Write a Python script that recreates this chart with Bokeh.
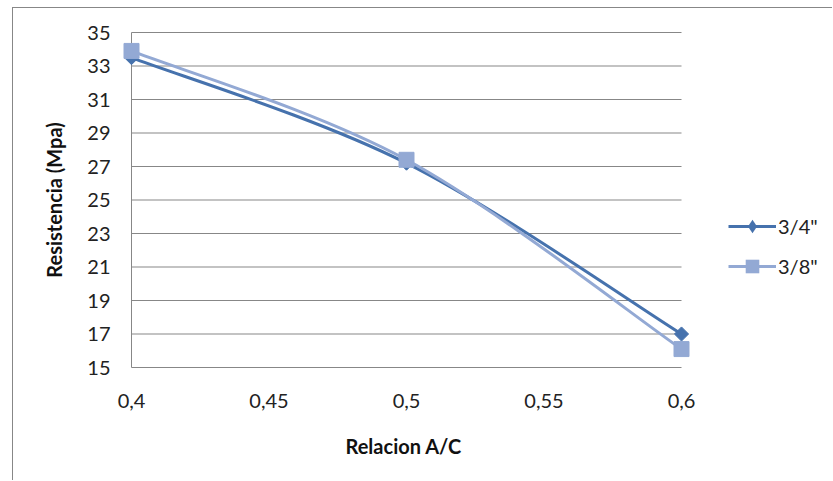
from bokeh.plotting import figure
from bokeh.models import Range1d, FixedTicker, Legend, LegendItem, ColumnDataSource, Title
from bokeh.embed import file_html
from bokeh.resources import INLINE
import math

# ---- data ----
relacion_ac = [0.4, 0.5, 0.6]
serie_34 = [33.5, 27.2, 17.0]
serie_38 = [33.9, 27.4, 16.1]
series_names = ['3/4"', '3/8"']
x_ticks = [0.4, 0.45, 0.5, 0.55, 0.6]
x_tick_labels = ["0,4", "0,45", "0,5", "0,55", "0,6"]
y_ticks = [15, 17, 19, 21, 23, 25, 27, 29, 31, 33, 35]
x_title = "Relacion A/C"
y_title = "Resistencia (Mpa)"

C_DARK = "#4672AD"
C_LIGHT = "#93A9D4"
GRID = "#878787"
FONT = "Lato"

# plot-area geometry (pixels): the frame is wider than the plot area so that
# end markers and the legend are not clipped
PLOT_W, PLOT_H = 550, 335
PAD_L, PAD_R, PAD_Y = 9, 152, 2
xmin, xmax = x_ticks[0], x_ticks[-1]
ymin, ymax = y_ticks[0], y_ticks[-1]
kx = (xmax - xmin) / PLOT_W
ky = (ymax - ymin) / PLOT_H


def bezier_source(xs, ys):
    n = len(xs)
    d = dict(x0=[], y0=[], x1=[], y1=[], cx0=[], cy0=[], cx1=[], cy1=[])
    for i in range(n - 1):
        xp, yp = (xs[i - 1], ys[i - 1]) if i > 0 else (xs[i], ys[i])
        xn, yn = (xs[i + 2], ys[i + 2]) if i + 2 < n else (xs[i + 1], ys[i + 1])
        d["x0"].append(xs[i]); d["y0"].append(ys[i])
        d["x1"].append(xs[i + 1]); d["y1"].append(ys[i + 1])
        d["cx0"].append(xs[i] + (xs[i + 1] - xp) / 6)
        d["cy0"].append(ys[i] + (ys[i + 1] - yp) / 6)
        d["cx1"].append(xs[i + 1] - (xn - xs[i]) / 6)
        d["cy1"].append(ys[i + 1] - (yn - ys[i]) / 6)
    return ColumnDataSource(d)


p = figure(
    width=820, height=473,
    x_range=Range1d(xmin - PAD_L * kx, xmax + PAD_R * kx),
    y_range=Range1d(ymin - PAD_Y * ky, ymax + PAD_Y * ky),
    output_backend="svg", toolbar_location=None,
    min_border_left=109, min_border_right=0,
    min_border_top=22, min_border_bottom=112,
    styles={"margin-left": "12px", "margin-top": "7px",
            "border-left": "1px solid #878787", "border-top": "1px solid #878787"},
)
p.outline_line_color = None
p.background_fill_color = "white"
p.border_fill_color = "white"
p.xgrid.grid_line_color = None
p.ygrid.grid_line_color = None

# gridlines and axis lines limited to the plot area
grid_y = y_ticks[1:]
p.segment(x0=[xmin] * len(grid_y), x1=[xmax] * len(grid_y), y0=grid_y, y1=grid_y,
          line_color=GRID, line_width=1)
p.segment(x0=[xmin, xmin], x1=[xmin, xmax], y0=[ymin, ymin], y1=[ymax, ymin],
          line_color=GRID, line_width=1)

# axes (labels only)
p.xaxis.ticker = FixedTicker(ticks=x_ticks)
p.xaxis.major_label_overrides = {t: l for t, l in zip(x_ticks, x_tick_labels)}
p.yaxis.ticker = FixedTicker(ticks=y_ticks)
for ax in (p.xaxis[0], p.yaxis[0]):
    ax.axis_line_color = None
    ax.major_tick_line_color = None
    ax.minor_tick_line_color = None
    ax.major_tick_out = 0
    ax.major_tick_in = 0
    ax.major_label_text_font = FONT
    ax.major_label_text_font_size = "20px"
    ax.major_label_text_color = "#222222"
    ax.axis_label_text_font = FONT
    ax.axis_label_text_font_size = "20px"
    ax.axis_label_text_font_style = "bold"
    ax.axis_label_text_color = "#111111"
p.yaxis.axis_label = y_title
p.xaxis.major_label_standoff = 24
p.yaxis.major_label_standoff = 12
p.yaxis.axis_label_standoff = 18

# x-axis title centred on the plot area (not on the wider frame)
p.add_layout(Title(text=x_title, align="left", offset=223, standoff=43,
                   text_font=FONT, text_font_size="20px", text_font_style="bold",
                   text_color="#111111"), "below")

# series 3/4"
b34 = p.bezier(x0="x0", y0="y0", x1="x1", y1="y1", cx0="cx0", cy0="cy0", cx1="cx1", cy1="cy1",
               source=bezier_source(relacion_ac, serie_34), line_color=C_DARK, line_width=3)
m34 = p.scatter(relacion_ac, serie_34, marker="square", angle=math.pi / 4, size=10,
                fill_color=C_DARK, line_color=C_DARK)
# series 3/8"
b38 = p.bezier(x0="x0", y0="y0", x1="x1", y1="y1", cx0="cx0", cy0="cy0", cx1="cx1", cy1="cy1",
               source=bezier_source(relacion_ac, serie_38), line_color=C_LIGHT, line_width=3)
m38 = p.scatter(relacion_ac, serie_38, marker="square", size=15,
                fill_color=C_LIGHT, line_color=C_LIGHT)

# legend-only marker renderers (zero size in the plot; the legend sizes them itself)
l34 = p.scatter(relacion_ac, serie_34, marker="diamond", size=0, fill_color=C_DARK, line_color=None)
l38 = p.scatter(relacion_ac, serie_38, marker="square", size=0, fill_color=C_LIGHT, line_color=None)

legend = Legend(
    items=[LegendItem(label=series_names[0], renderers=[b34, l34]),
           LegendItem(label=series_names[1], renderers=[b38, l38])],
    location=(606, 86),
    glyph_width=48, glyph_height=34, label_height=34, spacing=6,
    padding=0, margin=0, label_standoff=2,
    border_line_color=None, background_fill_alpha=0,
    label_text_font=FONT, label_text_font_size="20px", label_text_color="#222222",
)
p.add_layout(legend)

open("out.html", "w").write(file_html(p, INLINE))
